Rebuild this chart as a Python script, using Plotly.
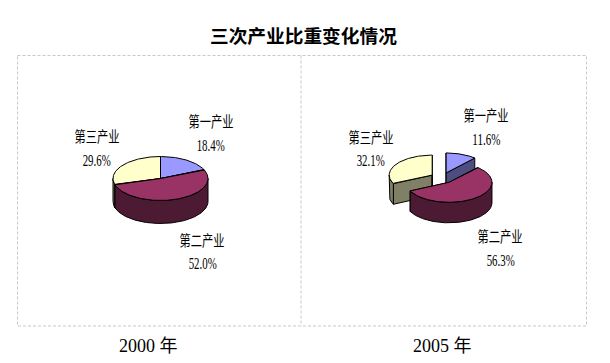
import math
import plotly.graph_objects as go

# ---- data ----
sector_names = ["第一产业", "第二产业", "第三产业"]
shares_2000 = [18.4, 52.0, 29.6]
shares_2005 = [11.6, 56.3, 32.1]
year_labels = ["2000 年", "2005 年"]
chart_title = "三次产业比重变化情况"

top_colors = ["#9999FF", "#993366", "#FFFFCC"]
side_colors = ["#4D4D80", "#4D1A33", "#808066"]
draw_order = [0, 2, 1]

W, H = 610, 363
SANS = "Noto Sans CJK SC"
SERIF = "Liberation Serif, Noto Sans CJK SC"

fig = go.Figure()


def poly(pts, fill):
    fig.add_trace(go.Scatter(
        x=[p[0] for p in pts] + [pts[0][0]],
        y=[p[1] for p in pts] + [pts[0][1]],
        mode="lines", fill="toself", fillcolor=fill,
        line=dict(color="#000000", width=1),
        hoverinfo="skip", showlegend=False))


def pie3d(shares, cx, cy, rx, ry, depth, explode):
    total = sum(shares)
    starts, a = [], 0.0
    for s in shares:
        starts.append((a, a + s / total * 2 * math.pi))
        a += s / total * 2 * math.pi
    for i in draw_order:
        t0, t1 = starts[i]
        mid = (t0 + t1) / 2
        ax = cx + explode * rx * math.sin(mid)
        ay = cy - explode * ry * math.cos(mid)

        def pt(t, d=0.0):
            return (ax + rx * math.sin(t), ay - ry * math.cos(t) + d)

        def arc(u, v, d=0.0):
            n = max(2, int(abs(v - u) / 0.02))
            return [pt(u + (v - u) * k / n, d) for k in range(n + 1)]

        for t in (t0, t1):
            poly([(ax, ay), pt(t), pt(t, depth), (ax, ay + depth)], side_colors[i])
        lo, hi = max(t0, math.pi / 2), min(t1, 3 * math.pi / 2)
        if hi > lo:
            poly(arc(lo, hi) + arc(hi, lo, depth), side_colors[i])
        poly([(ax, ay)] + arc(t0, t1), top_colors[i])


pie3d(shares_2000, 160.5, 178.5, 47.5, 22, 23, 0.0)
pie3d(shares_2005, 442, 178, 43, 20, 20.5, 0.27)


def label(x, y, text, size, family=SERIF, bold=False, color="#000000"):
    fig.add_annotation(
        x=x, y=y, xref="x", yref="y", text=f"<b>{text}</b>" if bold else text,
        showarrow=False, xanchor="center", yanchor="middle",
        font=dict(family=family, size=size, color=color))


label_pos_2000 = [(210.5, 120.5, 145), (202, 239, 263), (96.5, 135.5, 160)]
label_pos_2005 = [(486, 114, 139), (500, 235, 260), (370.5, 136.5, 160)]
for shares, positions in ((shares_2000, label_pos_2000), (shares_2005, label_pos_2005)):
    for name, s, (x, y1, y2) in zip(sector_names, shares, positions):
        label(x, y1, name, 15, SANS)
        label(x, y2, f"{s:.1f}%", 16)

label(303, 34.5, chart_title, 18.7, SANS, bold=True)
label(148, 346, year_labels[0], 18)
label(442, 346, year_labels[1], 18)

frame = dict(color="#C8C8C8", width=1, dash="3px,2px")
fig.add_shape(type="rect", x0=17.5, x1=586.5, y0=55.5, y1=326, line=frame, xref="x", yref="y")
fig.add_shape(type="line", x0=301, x1=301, y0=55.5, y1=326, line=frame, xref="x", yref="y")

# the reference's pie labels are narrow: squeeze them horizontally, they stay real text
squeeze = """
document.body.style.margin='0';
document.documentElement.style.overflow='hidden';
document.querySelectorAll('.annotation-text').forEach(function(t){
  var s=t.textContent;
  var n=null;
  if(s.indexOf('%')>=0) n=28;
  else if(s.indexOf('产业')===2 && s.length===4) n=45;
  if(n){t.setAttribute('textLength',n);t.setAttribute('lengthAdjust','spacingAndGlyphs');}
});
"""

fig.update_layout(
    width=W, height=H, margin=dict(l=0, r=0, t=0, b=0),
    paper_bgcolor="#FFFFFF", plot_bgcolor="#FFFFFF", showlegend=False,
    xaxis=dict(range=[0, W], visible=False, fixedrange=True),
    yaxis=dict(range=[H, 0], visible=False, fixedrange=True),
)
fig.write_html("out.html", config=dict(displayModeBar=False), post_script=squeeze)
